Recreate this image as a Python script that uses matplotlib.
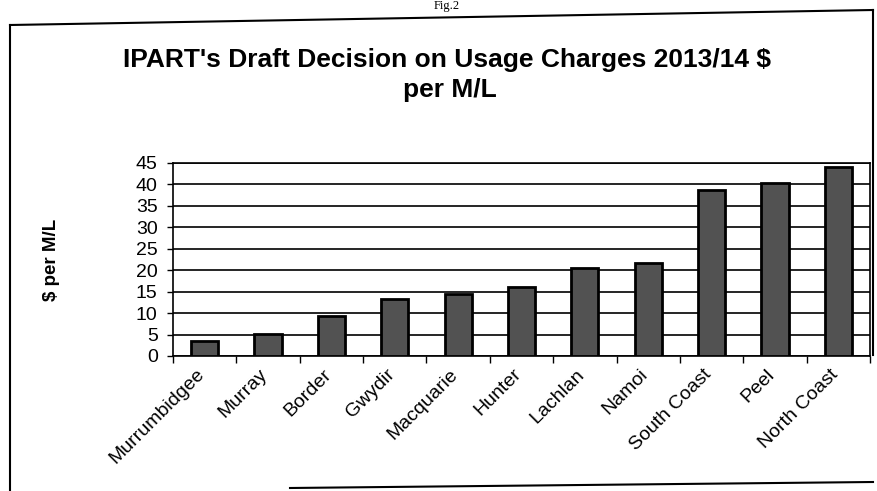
"""IPART draft usage charges bar chart."""

import numpy as np
from matplotlib import pyplot as plt
from matplotlib.lines import Line2D
from matplotlib.transforms import ScaledTranslation

plt.rcParams['font.family'] = ['Liberation Sans', 'DejaVu Sans']

# chart data
valleys = ["Murrumbidgee", "Murray", "Border", "Gwydir", "Macquarie", "Hunter",
           "Lachlan", "Namoi", "South Coast", "Peel", "North Coast"]
charges = [3.6, 5.1, 9.3, 13.4, 14.5, 16.2, 20.5, 21.6, 38.8, 40.4, 44.1]
y_ticks = [0, 5, 10, 15, 20, 25, 30, 35, 40, 45]

W, H = 877, 491
fig = plt.figure(figsize=(W / 100, H / 100), dpi=100)
ax = fig.add_axes([173 / W, 1 - 356 / H, (870 - 173) / W, (356 - 163) / H])

x = np.arange(len(valleys))
ax.bar(x, charges, width=0.43, color='#525252', edgecolor='black', linewidth=2, zorder=3)

ax.set_xlim(-0.5, len(valleys) - 0.5)
ax.set_ylim(0, 45)
ax.set_yticks(y_ticks)
ax.yaxis.grid(True, color='black', linewidth=1.2, zorder=0)
ax.tick_params(axis='y', labelsize=14, length=4, width=1, pad=7, direction='out')

# Excel style: tick marks between categories, labels under bar centres
ax.set_xticks(x)
ax.set_xticklabels(valleys, rotation=45, ha='right', rotation_mode='anchor', fontsize=14)
ax.tick_params(axis='x', which='major', length=0, pad=7)
ax.set_xticks(np.arange(-0.5, len(valleys)), minor=True)
ax.tick_params(axis='x', which='minor', length=5, width=1, direction='out')
shift = ScaledTranslation(-9 / 100, 0, fig.dpi_scale_trans)
for lbl in ax.get_xticklabels():
    lbl.set_transform(lbl.get_transform() + shift)

for side in ax.spines.values():
    side.set_linewidth(1.2)

fig.text(51 / W, 1 - 260 / H, "$ per M/L", rotation=90, ha='center', va='center',
         fontsize=13.5, fontweight='bold')

fig.text(447 / W, 1 - 67 / H, "IPART's Draft Decision on Usage Charges 2013/14 $", ha='center',
         va='baseline', fontsize=19, fontweight='bold')
fig.text(450 / W, 1 - 97 / H, "per M/L", ha='center', va='baseline', fontsize=19, fontweight='bold')
fig.text(447 / W, 0.999, "Fig.2", ha='center', va='top', fontsize=9, family='Liberation Serif')

# scanned page frame around the chart
frame = [((10, 10), (491, 25)), ((10, 873), (25, 10)), ((873, 873), (10, 355)), ((290, 873), (488, 482))]
for xs, ys in frame:
    fig.add_artist(Line2D([xs[0] / W, xs[1] / W], [1 - ys[0] / H, 1 - ys[1] / H],
                          color='black', linewidth=1.5, transform=fig.transFigure))

fig.savefig("out.png", dpi=100)
